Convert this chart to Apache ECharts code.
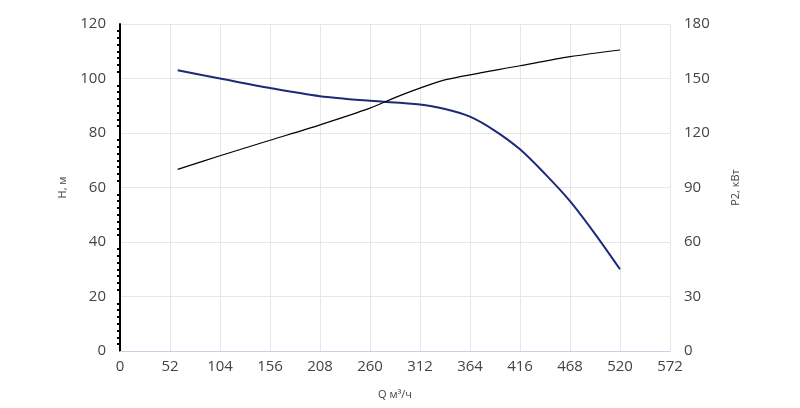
<!DOCTYPE html><html><head><meta charset="utf-8"><script src="https://cdn.jsdelivr.net/npm/echarts@6/dist/echarts.min.js"></script></head><body style="margin:0"><div id="c" style="width:800px;height:408px"></div><script>
const qH=[60,104,156,208,260,312,338,364,390,416,442,468,494,520];
const hVals=[103,100,96.5,93.5,91.8,90.5,88.8,86,80.8,74,65,55,43,30];
const qP=[60,104,156,208,260,286,312,340,416,468,520];
const pVals=[100,107.5,116,124.5,133.7,139.5,144.7,149.5,157,162,165.7];
const ax={fontFamily:'Open Sans',fontSize:15,color:'#444'};
const ch=echarts.init(document.getElementById('c'));
ch.setOption({animation:false,grid:{left:120,right:130,top:24,bottom:57},
xAxis:{type:'value',min:0,max:572,interval:52,name:'Q м³/ч',nameLocation:'middle',nameGap:38,nameTextStyle:{fontFamily:'Open Sans',fontSize:11,color:'#444'},
axisLine:{lineStyle:{color:'#c8d0e8'}},axisTick:{show:false},axisLabel:Object.assign({margin:8},ax),splitLine:{show:true,lineStyle:{color:'#e6e6e6'}}},
yAxis:[{type:'value',min:0,max:120,interval:20,name:'H, м',nameLocation:'middle',nameGap:52,nameTextStyle:{fontFamily:'Open Sans',fontSize:11,color:'#444'},
axisLine:{show:true,lineStyle:{color:'#000',width:2}},axisTick:{show:false},minorTick:{show:true,splitNumber:8,length:3,lineStyle:{color:'#000',width:2}},axisLabel:Object.assign({margin:14},ax),splitLine:{lineStyle:{color:'#e6e6e6'}}},
{type:'value',min:0,max:180,interval:30,name:'P2, кВт',nameLocation:'middle',nameGap:60,nameTextStyle:{fontFamily:'Open Sans',fontSize:11,color:'#444'},
axisLine:{show:false},axisTick:{show:false},axisLabel:Object.assign({margin:14},ax),splitLine:{show:false}}],
series:[{type:'line',smooth:0.3,symbol:'none',data:qH.map((q,i)=>[q,hVals[i]]),lineStyle:{color:'#1c2a78',width:2}},
{type:'line',smooth:0.3,symbol:'none',yAxisIndex:1,data:qP.map((q,i)=>[q,pVals[i]]),lineStyle:{color:'#000',width:1.2}}]});
</script></body></html>
